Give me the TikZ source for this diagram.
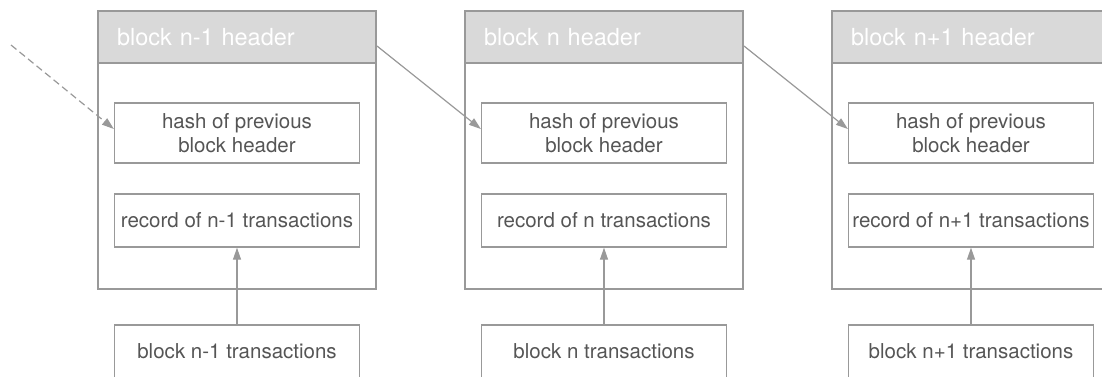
\documentclass[tikz,border=0pt]{standalone}
\usepackage{fontspec}
\setmainfont{TeX Gyre Heros}
\usepackage{xcolor}
\usetikzlibrary{arrows.meta}
\definecolor{lineGray}{HTML}{999999}
\definecolor{headGray}{HTML}{D9D9D9}
\definecolor{textGray}{HTML}{555555}

\begin{document}
\begin{tikzpicture}[x=1pt,y=-1pt]
		\tikzset{outer/.style = {shape=rectangle, draw=lineGray, line width=1.3pt, minimum width=278pt, minimum height=278pt, inner sep=0pt}}
		\tikzset{header/.style = {shape=rectangle, draw=lineGray, fill=headGray, line width=1.3pt, text width=240pt, inner xsep=19pt, minimum height=52pt, align=left, text=white, font=\fontsize{23.5}{28}\selectfont}}
		\tikzset{inbox/.style = {shape=rectangle, draw=lineGray, line width=1.3pt, minimum width=245pt, inner sep=0pt, align=center, text=textGray, font=\fontsize{20.5}{24}\selectfont}}
		\tikzset{link/.style = {draw=lineGray, line width=1.2pt, -{Triangle[length=12pt,width=8pt]}}}

		\clip (0,0) rectangle (1102,376);

		% block n-1
		\node[outer] (B1) at (237,150) {};
		\node[header] (H1) at (237,37) {block n-1 header};
		\node[inbox, minimum height=60pt] (P1) at (237,133) {hash of previous\\block header};
		\node[inbox, minimum height=53pt] (R1) at (237,220.5) {record of n-1 transactions};
		\node[inbox, minimum height=53pt] (T1) at (237,351.5) {block n-1 transactions};

		% block n
		\node[outer] (B2) at (604,150) {};
		\node[header] (H2) at (604,37) {block n header};
		\node[inbox, minimum height=60pt] (P2) at (604,133) {hash of previous\\block header};
		\node[inbox, minimum height=53pt] (R2) at (604,220.5) {record of n transactions};
		\node[inbox, minimum height=53pt] (T2) at (604,351.5) {block n transactions};

		% block n+1
		\node[outer] (B3) at (971,150) {};
		\node[header] (H3) at (971,37) {block n+1 header};
		\node[inbox, minimum height=60pt] (P3) at (971,133) {hash of previous\\block header};
		\node[inbox, minimum height=53pt] (R3) at (971,220.5) {record of n+1 transactions};
		\node[inbox, minimum height=53pt] (T3) at (971,351.5) {block n+1 transactions};

		\coordinate (S0) at (11,45);
		\coordinate (S1) at (377,46);
		\coordinate (S2) at (744,46);

		\draw[link, dash pattern=on 7pt off 4pt] (S0) to ([yshift=4pt]P1.west);
		\draw[link] (S1) to ([yshift=4pt]P2.west);
		\draw[link] (S2) to ([yshift=4pt]P3.west);

		\draw[link] (T1) to (R1);
		\draw[link] (T2) to (R2);
		\draw[link] (T3) to (R3);

	\end{tikzpicture}
\end{document}
